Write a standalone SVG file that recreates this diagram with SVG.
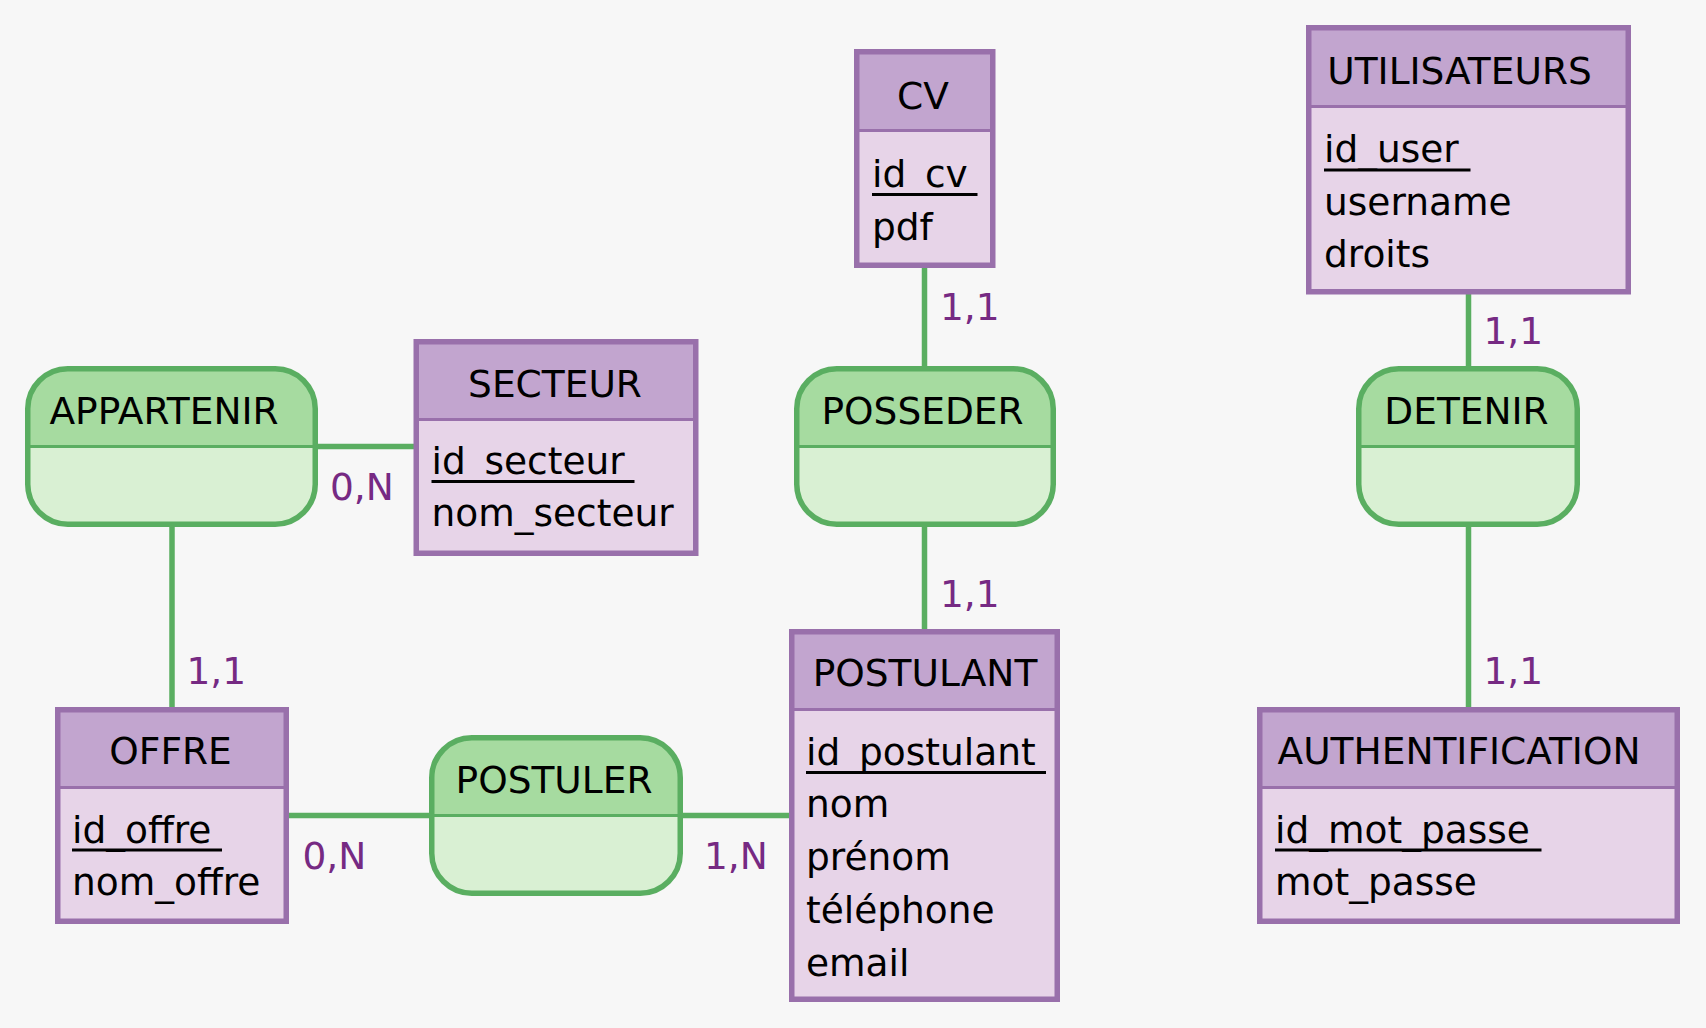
<svg xmlns="http://www.w3.org/2000/svg" width="1706" height="1028" viewBox="0 0 1706 1028">
<style>
text{font-family:"DejaVu Sans","Liberation Sans",sans-serif;font-size:37.5px;fill:#000}
.t{text-anchor:middle}
.c{fill:#762a83}
.eh{fill:#c2a5cf}
.eb{fill:#e7d4e8}
.ed{stroke:#9970ab;stroke-width:3}
.eo{fill:none;stroke:#9970ab;stroke-width:5.5}
.ah{fill:#a6dba0}
.ab{fill:#d9f0d3}
.ad{stroke:#5aae61;stroke-width:3}
.ao{fill:none;stroke:#5aae61;stroke-width:5.5}
.u{stroke:#000;stroke-width:3}
.l{stroke:#5aae61;stroke-width:5.5;fill:none}
</style>
<rect width="1706" height="1028" fill="#f7f7f7"/>
<g id="connectors">
<line class="l" x1="171.5" y1="446.5" x2="556" y2="446.5"/>
<line class="l" x1="172" y1="446.5" x2="172" y2="815.5"/>
<line class="l" x1="172" y1="815.5" x2="924.5" y2="815.5"/>
<line class="l" x1="924.5" y1="157" x2="924.5" y2="815.5"/>
<line class="l" x1="1468.5" y1="159" x2="1468.5" y2="815.5"/>
</g>
<g id="cv">
<rect class="eh" x="856.75" y="51.75" width="136" height="78.75"/>
<rect class="eb" x="856.75" y="130.5" width="136" height="135"/>
<line class="ed" x1="856.75" y1="130.5" x2="992.75" y2="130.5"/>
<rect class="eo" x="856.75" y="51.75" width="136" height="213.5"/>
<text class="t" x="923" y="109">CV</text>
<text x="872" y="187">id_cv</text>
<line class="u" x1="872" y1="194.5" x2="977.5" y2="194.5"/>
<text x="872" y="240">pdf</text>
</g>
<g id="utilisateurs">
<rect class="eh" x="1308.75" y="27.75" width="319.5" height="78.75"/>
<rect class="eb" x="1308.75" y="106.5" width="319.5" height="185.25"/>
<line class="ed" x1="1308.75" y1="106.5" x2="1628.25" y2="106.5"/>
<rect class="eo" x="1308.75" y="27.75" width="319.5" height="264"/>
<text class="t" x="1459.5" y="84">UTILISATEURS</text>
<text x="1324" y="162">id_user</text>
<line class="u" x1="1324" y1="170" x2="1470.5" y2="170"/>
<text x="1324" y="214.5">username</text>
<text x="1324" y="267">droits</text>
</g>
<g id="secteur">
<rect class="eh" x="416.25" y="341.75" width="279.5" height="77.75"/>
<rect class="eb" x="416.25" y="419.5" width="279.5" height="134"/>
<line class="ed" x1="416.25" y1="419.5" x2="695.75" y2="419.5"/>
<rect class="eo" x="416.25" y="341.75" width="279.5" height="211.5"/>
<text class="t" x="555" y="396.5">SECTEUR</text>
<text x="431.5" y="474">id_secteur</text>
<line class="u" x1="431.5" y1="481.5" x2="634.5" y2="481.5"/>
<text x="431.5" y="526">nom_secteur</text>
</g>
<g id="offre">
<rect class="eh" x="57.75" y="709.75" width="228.5" height="77.75"/>
<rect class="eb" x="57.75" y="787.5" width="228.5" height="134"/>
<line class="ed" x1="57.75" y1="787.5" x2="286.25" y2="787.5"/>
<rect class="eo" x="57.75" y="709.75" width="228.5" height="211.5"/>
<text class="t" x="170.5" y="764">OFFRE</text>
<text x="72" y="842.5">id_offre</text>
<line class="u" x1="72" y1="850" x2="222" y2="850"/>
<text x="72" y="895">nom_offre</text>
</g>
<g id="postulant">
<rect class="eh" x="791.75" y="631.75" width="265.5" height="77.75"/>
<rect class="eb" x="791.75" y="709.5" width="265.5" height="289.75"/>
<line class="ed" x1="791.75" y1="709.5" x2="1057.25" y2="709.5"/>
<rect class="eo" x="791.75" y="631.75" width="265.5" height="367.5"/>
<text class="t" x="925" y="686">POSTULANT</text>
<text x="806" y="765">id_postulant</text>
<line class="u" x1="806" y1="772.5" x2="1046" y2="772.5"/>
<text x="806" y="817">nom</text>
<text x="806" y="870">prénom</text>
<text x="806" y="922.5">téléphone</text>
<text x="806" y="975.5">email</text>
</g>
<g id="authentification">
<rect class="eh" x="1259.75" y="709.75" width="417.5" height="77.75"/>
<rect class="eb" x="1259.75" y="787.5" width="417.5" height="134"/>
<line class="ed" x1="1259.75" y1="787.5" x2="1677.25" y2="787.5"/>
<rect class="eo" x="1259.75" y="709.75" width="417.5" height="211.5"/>
<text class="t" x="1459" y="764">AUTHENTIFICATION</text>
<text x="1275" y="842.5">id_mot_passe</text>
<line class="u" x1="1275" y1="850" x2="1541.5" y2="850"/>
<text x="1275" y="895">mot_passe</text>
</g>
<g id="appartenir">
<rect class="ab" x="27.75" y="368.75" width="287.5" height="155.5" rx="40"/>
<path class="ah" d="M27.75,446.5 V408.75 A40,40 0 0 1 67.75,368.75 H275.25 A40,40 0 0 1 315.25,408.75 V446.5 Z"/>
<line class="ad" x1="27.75" y1="446.5" x2="315.25" y2="446.5"/>
<rect class="ao" x="27.75" y="368.75" width="287.5" height="155.5" rx="40"/>
<text class="t" x="164" y="424">APPARTENIR</text>
</g>
<g id="posseder">
<rect class="ab" x="796.75" y="368.75" width="256.5" height="155.5" rx="40"/>
<path class="ah" d="M796.75,446.5 V408.75 A40,40 0 0 1 836.75,368.75 H1013.25 A40,40 0 0 1 1053.25,408.75 V446.5 Z"/>
<line class="ad" x1="796.75" y1="446.5" x2="1053.25" y2="446.5"/>
<rect class="ao" x="796.75" y="368.75" width="256.5" height="155.5" rx="40"/>
<text class="t" x="922.5" y="424">POSSEDER</text>
</g>
<g id="detenir">
<rect class="ab" x="1358.75" y="368.75" width="218.5" height="155.5" rx="40"/>
<path class="ah" d="M1358.75,446.5 V408.75 A40,40 0 0 1 1398.75,368.75 H1537.25 A40,40 0 0 1 1577.25,408.75 V446.5 Z"/>
<line class="ad" x1="1358.75" y1="446.5" x2="1577.25" y2="446.5"/>
<rect class="ao" x="1358.75" y="368.75" width="218.5" height="155.5" rx="40"/>
<text class="t" x="1466.5" y="424">DETENIR</text>
</g>
<g id="postuler">
<rect class="ab" x="431.75" y="737.75" width="248.5" height="155.5" rx="40"/>
<path class="ah" d="M431.75,815.5 V777.75 A40,40 0 0 1 471.75,737.75 H640.25 A40,40 0 0 1 680.25,777.75 V815.5 Z"/>
<line class="ad" x1="431.75" y1="815.5" x2="680.25" y2="815.5"/>
<rect class="ao" x="431.75" y="737.75" width="248.5" height="155.5" rx="40"/>
<text class="t" x="554" y="793">POSTULER</text>
</g>
<g id="cardinalities">
<text class="c" x="940" y="319.5">1,1</text>
<text class="c" x="940" y="606.5">1,1</text>
<text class="c" x="330" y="499.5">0,N</text>
<text class="c" x="186.5" y="683.5">1,1</text>
<text class="c" x="302.5" y="868.5">0,N</text>
<text class="c" x="704" y="868.5">1,N</text>
<text class="c" x="1483.5" y="344">1,1</text>
<text class="c" x="1483.5" y="684">1,1</text>
</g>
</svg>
